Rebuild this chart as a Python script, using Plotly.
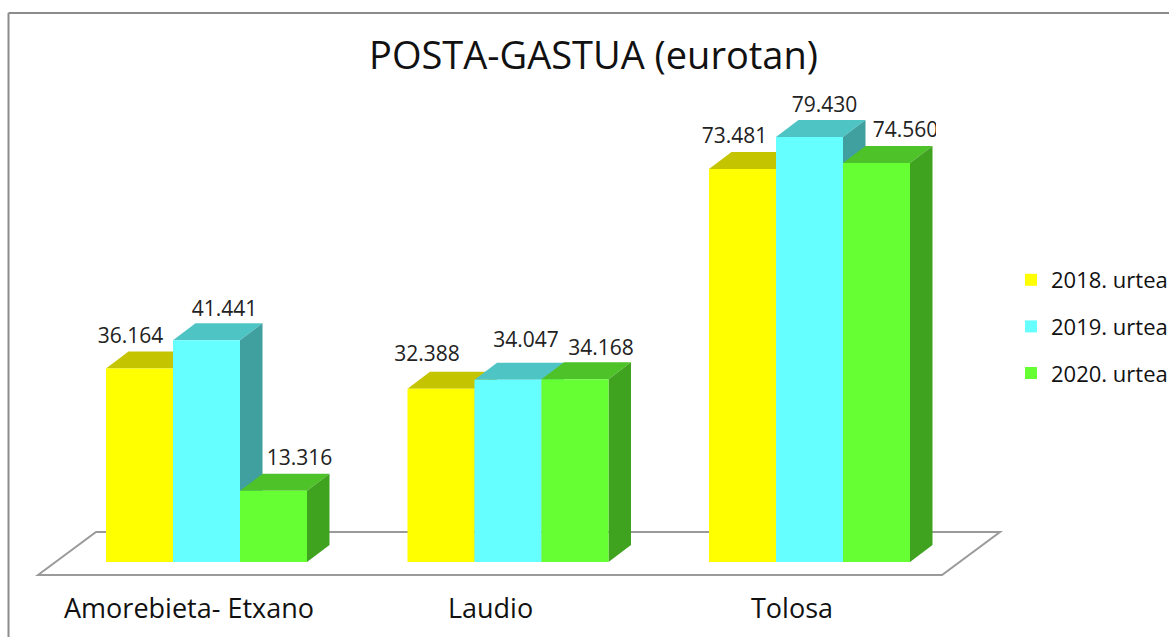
import plotly.graph_objects as go

categories = ["Amorebieta- Etxano", "Laudio", "Tolosa"]
series_names = ["2018. urtea", "2019. urtea", "2020. urtea"]
values_2018 = [36164, 32388, 73481]
values_2019 = [41441, 34047, 79430]
values_2020 = [13316, 34168, 74560]

FONT = "Open Sans"
W, H = 1169, 637
PLOT_B = 590               # bottom pixel of the plot area
BASE_PX = 562              # pixel row of value 0
PX_PER_UNIT = 0.00535      # pixels per euro
CAT0_PX, CAT_STEP = 206.5, 301.5
X0 = -CAT0_PX / CAT_STEP
X1 = (W - CAT0_PX) / CAT_STEP
Y0 = -(PLOT_B - BASE_PX) / PX_PER_UNIT
Y1 = BASE_PX / PX_PER_UNIT
DX, DY = 22.5 / CAT_STEP, 17 / PX_PER_UNIT
BAR_W = 67 / CAT_STEP

fronts = ["#FFFF00", "#66FFFF", "#66FF33"]
tops = ["#C4C400", "#4FC4C4", "#4EC229"]
sides = ["#A0A000", "#40A0A0", "#40A320"]
# nudges of the value labels from the bar centre, in px (x, y above the front top)
nudges = [[(-9, 31), (-14, 33), (-8, 31)],
          [(18, 30), (18, 38), (15, 30)],
          [(26, 31), (26, 29), (29, 31)]]

all_values = [values_2018, values_2019, values_2020]


def xd(px):
    return (px - CAT0_PX) / CAT_STEP


def yd(px):
    return (BASE_PX - px) / PX_PER_UNIT


def path(points):
    return "M" + "L".join(f"{x},{y}" for x, y in points) + "Z"


fig = go.Figure()
shapes = [dict(type="path", layer="below", xref="x", yref="y",
               path=path([(xd(38), yd(575)), (xd(96), yd(532)), (xd(1000), yd(532)), (xd(942), yd(575))]),
               fillcolor="white", line=dict(color="#9A9A9A", width=2))]

label_x, label_y, label_t = [], [], []
for s, vals in enumerate(all_values):
    fig.add_trace(go.Bar(x=list(range(len(categories))), y=vals, name=series_names[s],
                         marker=dict(color=fronts[s], line=dict(width=0)),
                         hoverinfo="name+y", legendgroup=series_names[s]))
    for i, v in enumerate(vals):
        c = i + (s - 1) * BAR_W
        l, r = c - BAR_W / 2, c + BAR_W / 2
        shapes.append(dict(type="path", layer="below", xref="x", yref="y",
                           path=path([(l, v), (l + DX, v + DY), (r + DX, v + DY), (r, v)]),
                           fillcolor=tops[s], line=dict(width=0)))
        shapes.append(dict(type="path", layer="below", xref="x", yref="y",
                           path=path([(r, 0), (r + DX, DY), (r + DX, v + DY), (r, v)]),
                           fillcolor=sides[s], line=dict(width=0)))
        nx, ny = nudges[s][i]
        label_x.append(c + nx / CAT_STEP)
        label_y.append(v + ny / PX_PER_UNIT)
        label_t.append(f"{v:,}".replace(",", "."))

fig.add_trace(go.Scatter(x=label_x, y=label_y, text=label_t, mode="text", showlegend=False,
                         textposition="middle center", hoverinfo="skip",
                         textfont=dict(family=FONT, size=21, color="#222222")))

# outer frame (top and left only are visible in the crop)
for x0, y0, x1, y1 in [(8.5, 13, W, 13), (8.5, 13, 8.5, H)]:
    shapes.append(dict(type="line", xref="paper", yref="paper", layer="above",
                       x0=x0 / W, x1=x1 / W, y0=(PLOT_B - y0) / PLOT_B, y1=(PLOT_B - y1) / PLOT_B,
                       line=dict(color="#8C8C8C", width=2)))
# the last value label is cut by the chart's inner area
shapes.append(dict(type="rect", xref="x", yref="y", layer="above",
                   x0=xd(936), x1=xd(952), y0=yd(147), y1=yd(116),
                   fillcolor="white", line=dict(width=0)))

fig.update_layout(
    width=W, height=H, autosize=False,
    margin=dict(l=0, r=0, t=0, b=H - PLOT_B, pad=0, autoexpand=False),
    paper_bgcolor="white", plot_bgcolor="rgba(0,0,0,0)",
    barmode="group", bargap=1 - 3 * BAR_W, bargroupgap=0,
    title=dict(text="POSTA-GASTUA (eurotan)", x=593.5 / W, xanchor="center",
               y=1 - 56 / H, yanchor="middle", yref="container",
               font=dict(family=FONT, size=38, color="#111111")),
    xaxis=dict(range=[X0, X1], tickmode="array", automargin=False,
               tickvals=[i - 17.5 / CAT_STEP for i in range(len(categories))],
               ticktext=categories, ticks="", showgrid=False, zeroline=False, showline=False,
               tickfont=dict(family=FONT, size=27, color="#111111"), ticklabelstandoff=0),
    yaxis=dict(range=[Y0, Y1], visible=False, showgrid=False, zeroline=False, automargin=False),
    legend=dict(x=1011 / W, xanchor="left", y=(PLOT_B - 259) / PLOT_B, yanchor="top",
                tracegroupgap=15, traceorder="grouped", bgcolor="rgba(0,0,0,0)",
                font=dict(family=FONT, size=22, color="#111111"), itemclick=False),
    shapes=shapes,
)
fig.write_html("out.html", config=dict(displayModeBar=False),
               post_script="document.body.style.margin='0';")
